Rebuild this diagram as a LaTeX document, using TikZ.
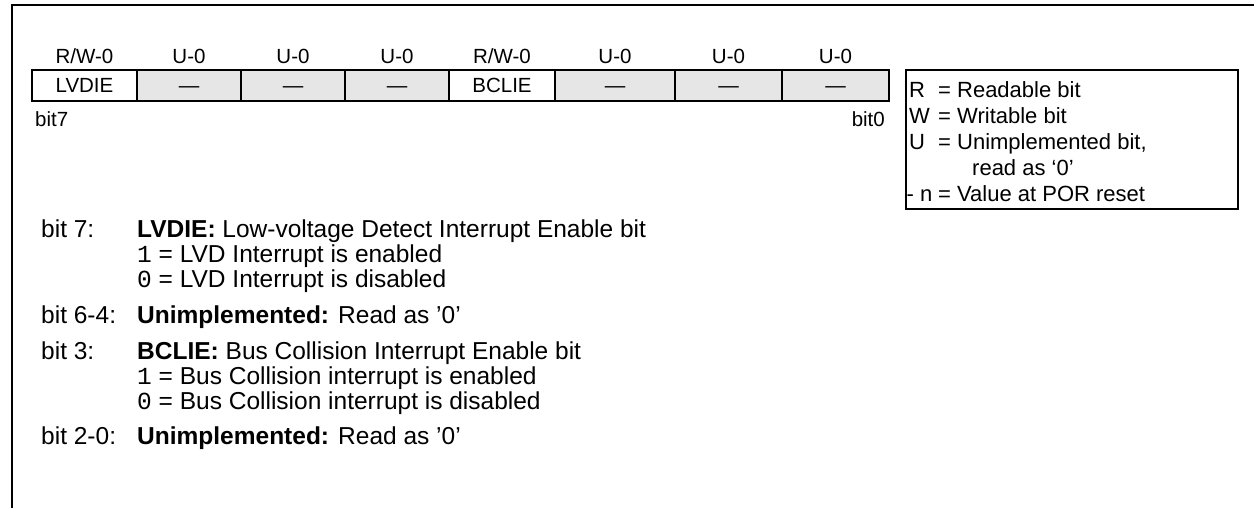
\documentclass[tikz,border=0pt]{standalone}
\usepackage{fontspec}
\setmainfont{Liberation Sans}
\newfontfamily\monofnt{Liberation Mono}
\definecolor{cellgray}{RGB}{230,230,230}
\newcommand{\regfnt}{\fontsize{20.5}{24}\selectfont}
\newcommand{\legfnt}{\fontsize{22}{26}\selectfont}
\newcommand{\bodyfnt}{\fontsize{24.5}{29}\selectfont}
\begin{document}
\begin{tikzpicture}[x=1pt,y=-1pt,
  frameline/.style={line width=2pt,line cap=rect},
  cell/.style={draw=black,line width=1.8pt,minimum height=31.5pt,inner sep=0pt,
    text height=14.7pt,text depth=0pt,font=\regfnt},
  ucell/.style={cell,fill=cellgray},
  reglbl/.style={anchor=base,inner sep=0pt,font=\regfnt},
  bitlbl/.style={inner sep=0pt,font=\regfnt},
  legbox/.style={draw=black,line width=1.8pt,inner sep=0pt},
  legtxt/.style={anchor=base west,inner sep=0pt,font=\legfnt},
  bodytxt/.style={anchor=base west,inner sep=0pt,font=\bodyfnt}]
\useasboundingbox (0,0) rectangle (1254,508);
% outer frame (open to the right and bottom)
\draw[frameline] (11.5,508) -- (11.5,5.5) -- (1254,5.5);

% access labels
\node[reglbl] (l7) at (84.5,63.3) {R/W-0};
\node[reglbl] (l6) at (189,63.3) {U-0};
\node[reglbl] (l5) at (293,63.3) {U-0};
\node[reglbl] (l4) at (397,63.3) {U-0};
\node[reglbl] (l3) at (502,63.3) {R/W-0};
\node[reglbl] (l2) at (615,63.3) {U-0};
\node[reglbl] (l1) at (728.5,63.3) {U-0};
\node[reglbl] (l0) at (835.5,63.3) {U-0};

% register cells
\node[cell,minimum width=105pt] (c7) at (84.5,85.5) {LVDIE};
\node[ucell,minimum width=104pt] (c6) at (189,85.5) {—};
\node[ucell,minimum width=104pt] (c5) at (293,85.5) {—};
\node[ucell,minimum width=104pt] (c4) at (397,85.5) {—};
\node[cell,minimum width=106pt] (c3) at (502,85.5) {BCLIE};
\node[ucell,minimum width=120pt] (c2) at (615,85.5) {—};
\node[ucell,minimum width=107pt] (c1) at (728.5,85.5) {—};
\node[ucell,minimum width=107pt] (c0) at (835.5,85.5) {—};

\node[bitlbl,anchor=base west] (b7) at (35,126.5) {bit7};
\node[bitlbl,anchor=base east] (b0) at (885,127) {bit0};

% legend
\node[legbox,minimum width=332pt,minimum height=139pt] (leg) at (1072,139.5) {};
\node[legtxt] (kR) at (909,97.9) {R};
\node[legtxt] (vR) at (938,97.9) {= Readable bit};
\node[legtxt] (kW) at (909,123.9) {W};
\node[legtxt] (vW) at (938,123.9) {= Writable bit};
\node[legtxt] (kU) at (909,149.9) {U};
\node[legtxt] (vU) at (938,149.9) {= Unimplemented bit,};
\node[legtxt] (vU2) at (972,175.9) {read as ‘0’};
\node[legtxt] (kN) at (906.5,201.9) {- n};
\node[legtxt] (vN) at (938,201.9) {= Value at POR reset};

% bit descriptions
\node[bodytxt] (d7) at (41,237.5) {bit 7:};
\node[bodytxt] (t7) at (137,237.5) {\textbf{LVDIE:} Low-voltage Detect Interrupt Enable bit};
\node[bodytxt] (t7a) at (137,262.5) {{\monofnt 1} = LVD Interrupt is enabled};
\node[bodytxt] (t7b) at (137,287.5) {{\monofnt 0} = LVD Interrupt is disabled};
\node[bodytxt] (d64) at (41,323) {bit 6-4:};
\node[bodytxt] (t64) at (137,323) {\textbf{Unimplemented:} Read as ’0’};
\node[bodytxt] (d3) at (41,359.5) {bit 3:};
\node[bodytxt] (t3) at (137,359.5) {\textbf{BCLIE:} Bus Collision Interrupt Enable bit};
\node[bodytxt] (t3a) at (137,384.5) {{\monofnt 1} = Bus Collision interrupt is enabled};
\node[bodytxt] (t3b) at (137,409.5) {{\monofnt 0} = Bus Collision interrupt is disabled};
\node[bodytxt] (d20) at (41,444.5) {bit 2-0:};
\node[bodytxt] (t20) at (137,444.5) {\textbf{Unimplemented:} Read as ’0’};
\end{tikzpicture}
\end{document}
